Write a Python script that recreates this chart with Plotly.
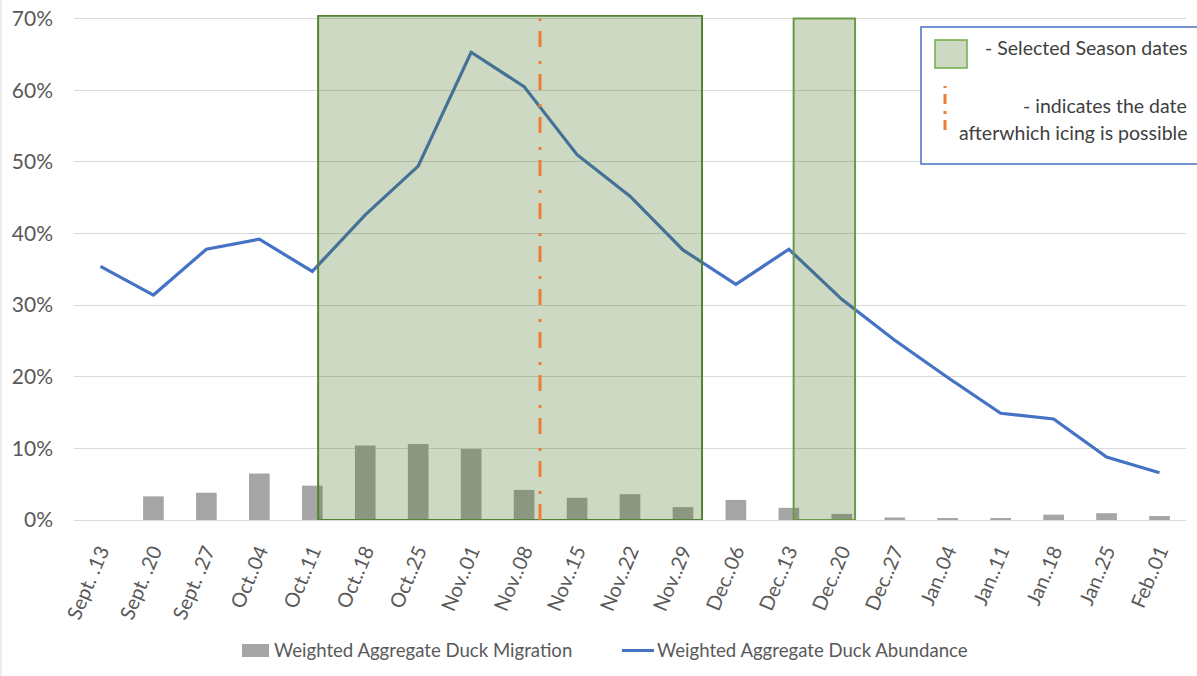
import plotly.graph_objects as go

# ---------------- data ----------------
weeks = ["Sept. .13", "Sept. .20", "Sept. .27", "Oct..04", "Oct..11", "Oct..18", "Oct..25",
         "Nov..01", "Nov..08", "Nov..15", "Nov..22", "Nov..29", "Dec..06", "Dec..13",
         "Dec..20", "Dec..27", "Jan..04", "Jan..11", "Jan..18", "Jan..25", "Feb..01"]
migration = [0.0, 3.3, 3.8, 6.5, 4.8, 10.4, 10.6, 9.9, 4.2, 3.1, 3.6, 1.8, 2.8, 1.7,
             0.85, 0.35, 0.25, 0.15, 0.75, 0.95, 0.55]
abundance = [35.4, 31.4, 37.8, 39.2, 34.7, 42.6, 49.4, 65.3, 60.5, 51.0, 45.2, 37.7,
             32.9, 37.8, 30.8, 25.1, 19.9, 14.9, 14.1, 8.8, 6.6]
series_names = ["Weighted Aggregate Duck Migration", "Weighted Aggregate Duck Abundance"]
y_ticks = [0, 10, 20, 30, 40, 50, 60, 70]
y_tick_text = ["0%", "10%", "20%", "30%", "40%", "50%", "60%", "70%"]

# selected season windows (category-index positions) and icing date
season_windows = [(4.11, 11.36, 70.4), (13.09, 14.25, 70.0)]
icing_position = 8.3

# ---------------- layout helpers ----------------
W, H = 1197, 676
ML, MR, MT, MB = 74, 11, 15, 156
PW, PH = W - ML - MR, H - MT - MB


def px(x):
    return (x - ML) / PW


def py(y):
    return (H - MB - y) / PH


FONT = "Lato"
GRAY = "#595959"
BAR_COLOR = "#a5a5a5"
LINE_COLOR = "#4472c4"

fig = go.Figure()
fig.add_trace(go.Bar(
    x=list(range(len(weeks))), y=migration, name=series_names[0],
    marker=dict(color=BAR_COLOR, line=dict(width=0)), width=0.39, showlegend=False,
))
fig.add_trace(go.Scatter(
    x=list(range(len(weeks))), y=abundance, name=series_names[1],
    mode="lines", line=dict(color=LINE_COLOR, width=3.2), showlegend=False,
))

shapes = []
for i, (x0, x1, top) in enumerate(season_windows):
    shapes.append(dict(
        type="rect", xref="x", yref="y", x0=x0, x1=x1, y0=0, y1=top,
        fillcolor="rgba(70,115,30,0.27)",
        line=dict(color="#548235" if i == 0 else "#6a9a48", width=2), layer="above",
    ))
shapes.append(dict(
    type="line", xref="x", yref="y", x0=icing_position, x1=icing_position, y0=0, y1=70,
    line=dict(color="#ed7d31", width=3, dash="16px,10px,3px,14px"), layer="above",
))
# custom key box (top right)
shapes.append(dict(
    type="rect", xref="paper", yref="paper", x0=px(921), x1=px(1199), y0=py(164), y1=py(27),
    fillcolor="white", line=dict(color="#4472c4", width=1.5), layer="above",
))
shapes.append(dict(
    type="rect", xref="paper", yref="paper", x0=px(935), x1=px(967), y0=py(68), y1=py(40),
    fillcolor="#cdd9c2", line=dict(color="#70ad47", width=1.5), layer="above",
))
shapes.append(dict(
    type="line", xref="paper", yref="paper", x0=px(945), x1=px(945), y0=py(130), y1=py(86),
    line=dict(color="#ed7d31", width=3, dash="10px,6px,3px,7px"), layer="above",
))
# bottom series key
shapes.append(dict(
    type="rect", xref="paper", yref="paper", x0=px(242), x1=px(269), y0=py(657), y1=py(644),
    fillcolor=BAR_COLOR, line=dict(width=0), layer="above",
))
shapes.append(dict(
    type="line", xref="paper", yref="paper", x0=px(622), x1=px(654), y0=py(650.5), y1=py(650.5),
    line=dict(color=LINE_COLOR, width=3), layer="above",
))
# chart outer border on the left
shapes.append(dict(
    type="line", xref="paper", yref="paper", x0=px(1), x1=px(1), y0=py(676), y1=py(0),
    line=dict(color="#d9d9d9", width=1), layer="above",
))

annotations = [
    dict(text="- Selected Season dates", x=px(1189), y=py(48)),
    dict(text="- indicates the date", x=px(1189), y=py(105)),
    dict(text="afterwhich icing is possible", x=px(1189), y=py(132)),
]
for a in annotations:
    a.update(xanchor="right", font=dict(family=FONT, size=19.5, color="#404040"))
annotations += [
    dict(text=series_names[0], x=px(272), y=py(650), xanchor="left",
         font=dict(family=FONT, size=18.6, color=GRAY)),
    dict(text=series_names[1], x=px(655), y=py(650), xanchor="left",
         font=dict(family=FONT, size=18.6, color=GRAY)),
]
for a in annotations:
    a.update(xref="paper", yref="paper", yanchor="middle", showarrow=False)

fig.update_layout(
    width=W, height=H,
    margin=dict(l=ML, r=MR, t=MT, b=MB, pad=0, autoexpand=False),
    paper_bgcolor="white", plot_bgcolor="white",
    font=dict(family=FONT, color=GRAY),
    shapes=shapes, annotations=annotations,
    showlegend=False,
    bargap=0.6,
)
fig.update_xaxes(
    range=[-0.5, len(weeks) - 0.5], tickmode="array", tickvals=list(range(len(weeks))),
    ticktext=weeks, tickangle=-67, tickfont=dict(family=FONT, size=20, color=GRAY),
    showgrid=False, zeroline=False, showline=True, linecolor="#d9d9d9", linewidth=1,
    ticks="", ticklabelstandoff=11, fixedrange=True, automargin=False,
)
fig.update_yaxes(
    range=[0, 70.5], tickmode="array", tickvals=y_ticks, ticktext=y_tick_text,
    tickfont=dict(family=FONT, size=21, color=GRAY), showgrid=True, gridcolor="#d9d9d9",
    gridwidth=1, zeroline=False, showline=False, ticks="", ticklabelstandoff=20,
    fixedrange=True, automargin=False,
)

fig.write_html("out.html", config={"displayModeBar": False},
               post_script="document.body.style.margin='0';")
